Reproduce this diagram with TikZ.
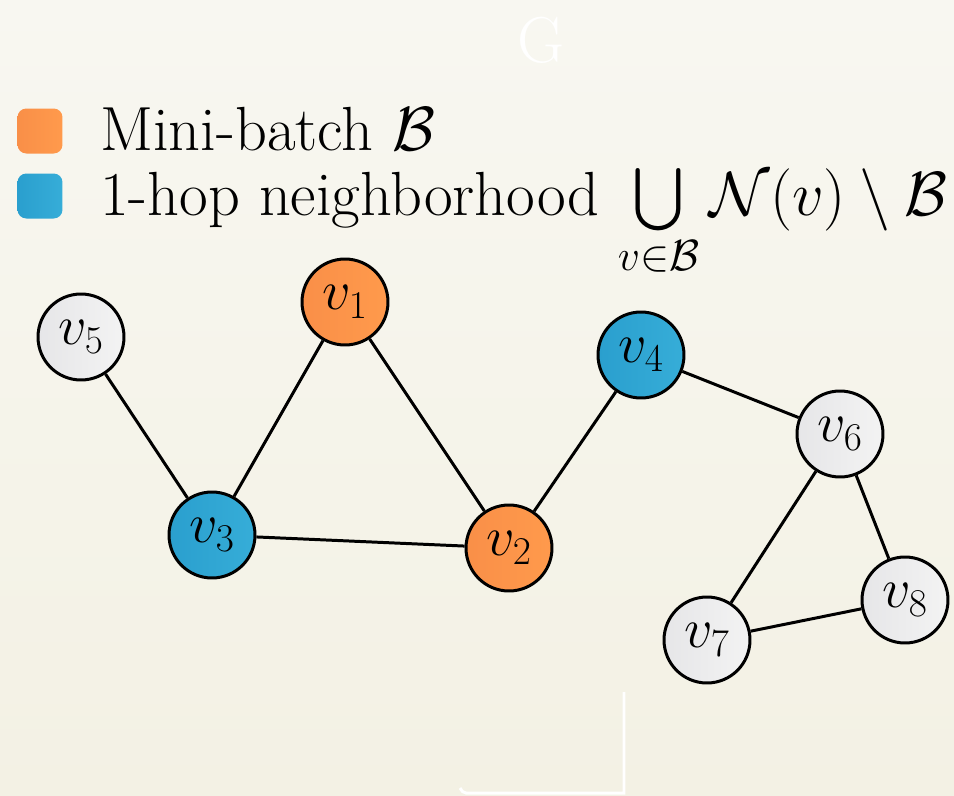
\RequirePackage{fix-cm}
\documentclass[tikz,border=0pt]{standalone}
\usepackage{amsmath,amssymb}
\definecolor{bgtop}{HTML}{F8F7F1}
\definecolor{bgbot}{HTML}{F3F1E4}
\definecolor{orL}{HTML}{F98F48}
\definecolor{orR}{HTML}{FF9A4C}
\definecolor{blL}{HTML}{2A9FCE}
\definecolor{blR}{HTML}{36ADD8}
\definecolor{grL}{HTML}{E6E6E8}
\definecolor{grR}{HTML}{F3F3F3}
\tikzset{
  vnode/.style={circle, draw=black, line width=1.7pt, minimum size=1.72cm, inner sep=0pt,
    font=\fontsize{32}{38}\selectfont},
  batch/.style={vnode, left color=orL, right color=orR},
  hop/.style={vnode, left color=blL, right color=blR},
  other/.style={vnode, left color=grL, right color=grR},
  edge/.style={line width=1.7pt, black},
  legbox/.style={rounded corners=5pt, minimum size=0.9cm, inner sep=0pt},
  legtext/.style={anchor=base west, inner sep=0pt, font=\fontsize{35.5}{42}\selectfont}
}
\begin{document}
\begin{tikzpicture}[x=0.02cm,y=-0.02cm]
\useasboundingbox (0,0) rectangle (954,795);
\shade[top color=bgtop, bottom color=bgbot] (0,0) rectangle (954,795);
\node[white, font=\fontsize{37}{44}\selectfont] (title) at (541,40) {G};
\draw[white, line width=1.7pt] (624,692) -- (624,793) -- (466,793) to[out=180,in=-60] (460,788);
% legend
\node[legbox, left color=orL, right color=orR] (lb1) at (40,131) {};
\node[legbox, left color=blL, right color=blR] (lb2) at (40,196) {};
\node[legtext] (lt1) at (100,150) {Mini-batch $\mathcal{B}$};
\node[legtext] (lt2) at (100,215) {1-hop neighborhood $\bigcup\limits_{v\in\mathcal{B}}\mathcal{N}(v)\setminus\mathcal{B}$};
% nodes
\node[batch] (v1) at (345,302) {$v_1$};
\node[batch] (v2) at (509,548) {$v_2$};
\node[hop] (v3) at (212,535) {$v_3$};
\node[hop] (v4) at (641,355) {$v_4$};
\node[other] (v5) at (81,337) {$v_5$};
\node[other] (v6) at (840,434) {$v_6$};
\node[other] (v7) at (707,640) {$v_7$};
\node[other] (v8) at (905,600) {$v_8$};
% edges
\draw[edge] (v5) -- (v3);
\draw[edge] (v3) -- (v1);
\draw[edge] (v1) -- (v2);
\draw[edge] (v3) -- (v2);
\draw[edge] (v2) -- (v4);
\draw[edge] (v4) -- (v6);
\draw[edge] (v6) -- (v7);
\draw[edge] (v6) -- (v8);
\draw[edge] (v7) -- (v8);
\end{tikzpicture}
\end{document}
